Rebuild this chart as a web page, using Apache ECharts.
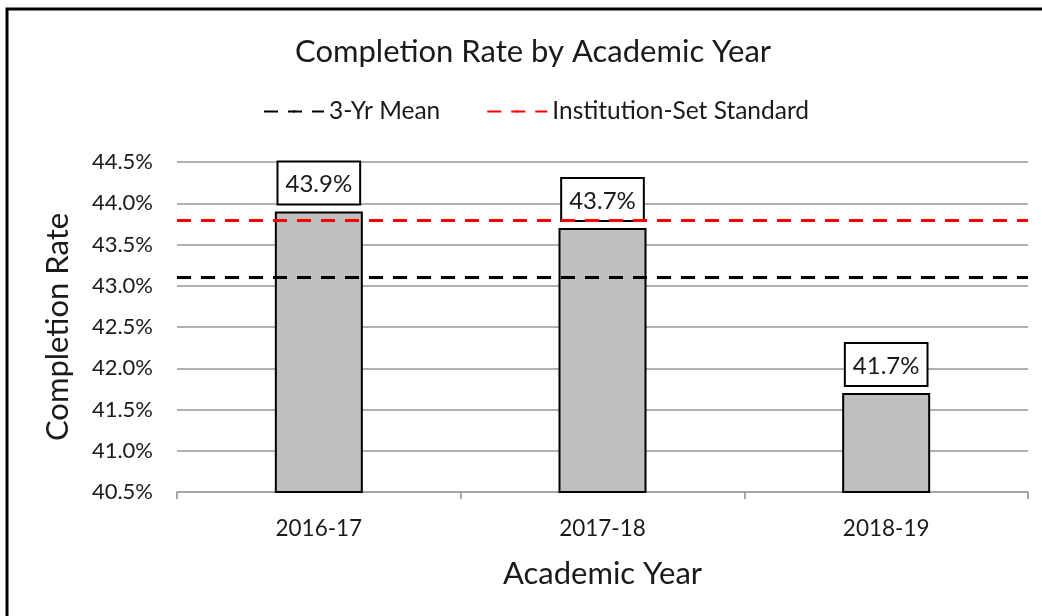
<!DOCTYPE html>
<html>
<head>
    <title>Completion Rate</title>
    <script src="https://cdn.jsdelivr.net/npm/echarts@6/dist/echarts.min.js"></script>
</head>
<body style="margin:0;">

<div id="chart" style="width: 1042px;height:616px;"></div>

<script type="text/javascript">
    var years = ['2016-17', '2017-18', '2018-19'];
    var rates = [43.9, 43.7, 41.7];
    var meanRate = 43.1;
    var standardRate = 43.8;

    var font = 'Lato, "Open Sans", sans-serif';
    var chart = echarts.init(document.getElementById('chart'));

    chart.setOption({
        animation: false,
        textStyle: {fontFamily: font, color: '#1a1a1a'},
        graphic: [{
            type: 'rect',
            shape: {x: 7, y: 9, width: 1200, height: 800},
            style: {fill: 'none', stroke: '#000', lineWidth: 3}
        }],
        title: {
            text: 'Completion Rate by Academic Year',
            left: 290,
            top: 24,
            textStyle: {fontFamily: font, fontSize: 31, fontWeight: 'normal', color: '#1a1a1a'}
        },
        legend: {
            top: 88,
            left: 258,
            itemWidth: 60,
            itemHeight: 3,
            itemGap: 46,
            textStyle: {fontSize: 24.5, color: '#1a1a1a'},
            data: ['3-Yr Mean', 'Institution-Set Standard']
        },
        grid: {left: 177, right: 14, top: 162, bottom: 124},
        xAxis: {
            type: 'category',
            data: years,
            name: 'Academic Year',
            nameLocation: 'middle',
            nameGap: 57,
            nameTextStyle: {fontSize: 31, color: '#1a1a1a'},
            axisLine: {lineStyle: {color: '#a6a6a6', width: 2}},
            axisTick: {show: true, length: 7, lineStyle: {color: '#a6a6a6', width: 2}},
            axisLabel: {fontSize: 22.5, color: '#1a1a1a', margin: 20}
        },
        yAxis: {
            type: 'value',
            min: 40.5,
            max: 44.5,
            interval: 0.5,
            name: 'Completion Rate',
            nameLocation: 'middle',
            nameGap: 94,
            nameTextStyle: {fontSize: 31, color: '#1a1a1a'},
            axisLine: {show: false},
            axisTick: {show: false},
            axisLabel: {
                fontSize: 22, color: '#1a1a1a', margin: 24,
                formatter: function (v) { return v.toFixed(1) + '%'; }
            },
            splitLine: {lineStyle: {color: '#b0b0b0', width: 2}}
        },
        series: [
            {
                name: 'Completion Rate',
                type: 'bar',
                data: rates,
                barWidth: 88,
                itemStyle: {color: '#bfbfbf', borderColor: '#000', borderWidth: 2},
                label: {
                    show: true,
                    position: 'top',
                    distance: 8,
                    fontSize: 24,
                    color: '#1a1a1a',
                    backgroundColor: '#fff',
                    borderColor: '#000',
                    borderWidth: 2,
                    padding: [4, 7, 1, 7],
                    formatter: function (p) { return p.value.toFixed(1) + '%'; }
                },
                z: 2
            },
            {
                name: '3-Yr Mean',
                type: 'line',
                data: [],
                symbol: 'none',
                itemStyle: {color: '#000'},
                lineStyle: {color: '#000', type: [14, 10], width: 3},
                markLine: {
                    silent: true,
                    symbol: 'none',
                    label: {show: false},
                    lineStyle: {color: '#000', type: [14, 10], width: 3},
                    data: [{yAxis: meanRate}]
                },
                z: 5
            },
            {
                name: 'Institution-Set Standard',
                type: 'line',
                data: [],
                symbol: 'none',
                itemStyle: {color: '#ff0000'},
                lineStyle: {color: '#ff0000', type: [14, 10], width: 3},
                markLine: {
                    silent: true,
                    symbol: 'none',
                    label: {show: false},
                    lineStyle: {color: '#ff0000', type: [14, 10], width: 3},
                    data: [{yAxis: standardRate}]
                },
                z: 5
            }
        ]
    });
</script>
</body>
</html>
